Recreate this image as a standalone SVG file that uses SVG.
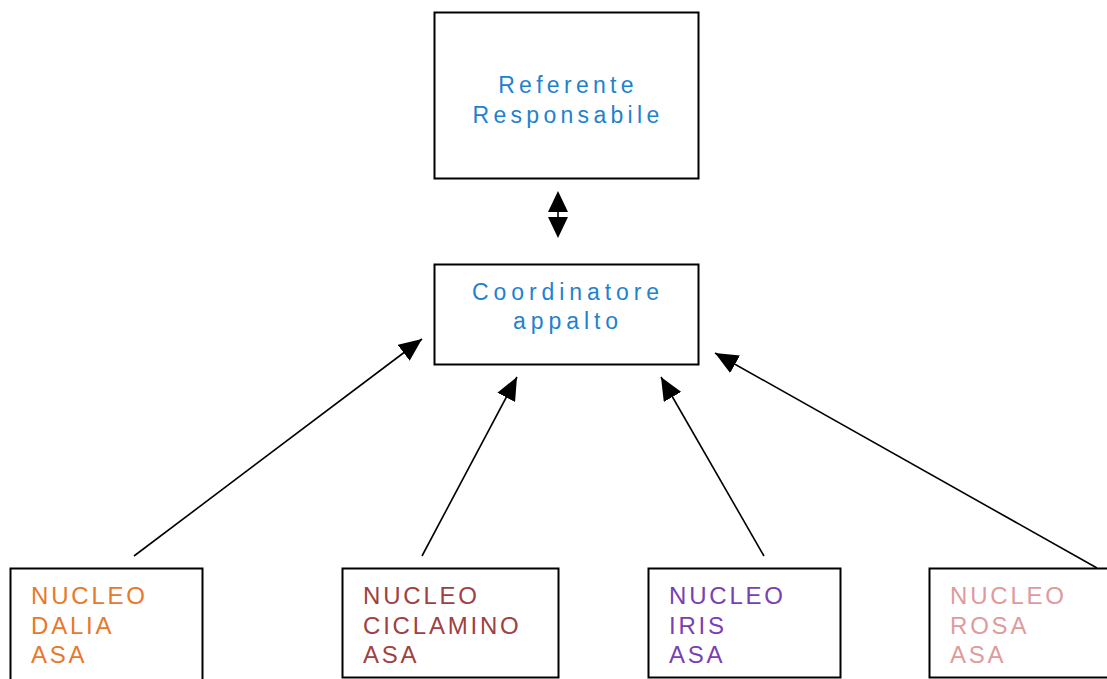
<svg xmlns="http://www.w3.org/2000/svg" width="1107" height="679" viewBox="0 0 1107 679">
<defs>
<style>
.box{fill:#fff;stroke:#000;stroke-width:2}
.t{font-family:"Liberation Sans",Arial,sans-serif}
.blue{fill:#1E82CF;font-size:23px;letter-spacing:4.3px}
.nuc{font-size:24px;letter-spacing:2.8px}
.conn{stroke:#000;stroke-width:1.6;fill:none}
</style>
<marker id="ah" markerUnits="userSpaceOnUse" markerWidth="24" markerHeight="20" viewBox="0 0 24 20" refX="23" refY="10" orient="auto">
<path d="M0,0 L23,10 L0,20 Z" fill="#000"/>
</marker>
</defs>
<rect width="1107" height="679" fill="#fff"/>
<g id="referente">
<rect class="box" x="434.5" y="12.5" width="264" height="166"/>
<text class="t blue" x="568" y="93" text-anchor="middle">Referente</text>
<text class="t blue" x="568" y="123" text-anchor="middle">Responsabile</text>
</g>
<g id="coordinatore">
<rect class="box" x="434.5" y="264.5" width="264" height="100"/>
<text class="t blue" x="568" y="300" text-anchor="middle" style="letter-spacing:4.9px">Coordinatore</text>
<text class="t blue" x="568" y="329" text-anchor="middle" style="letter-spacing:4.9px">appalto</text>
</g>
<g id="dalia">
<rect class="box" x="10.5" y="568.5" width="192" height="120"/>
<text class="t nuc" fill="#E8782A" x="31" y="604">NUCLEO</text>
<text class="t nuc" fill="#E8782A" x="31" y="634">DALIA</text>
<text class="t nuc" fill="#E8782A" x="31" y="663">ASA</text>
</g>
<g id="ciclamino">
<rect class="box" x="342.5" y="568.5" width="216" height="109"/>
<text class="t nuc" fill="#A0403F" x="363" y="604">NUCLEO</text>
<text class="t nuc" fill="#A0403F" x="363" y="634">CICLAMINO</text>
<text class="t nuc" fill="#A0403F" x="363" y="663">ASA</text>
</g>
<g id="iris">
<rect class="box" x="648.5" y="568.5" width="192" height="109"/>
<text class="t nuc" fill="#7A3FB2" x="669" y="604">NUCLEO</text>
<text class="t nuc" fill="#7A3FB2" x="669" y="634">IRIS</text>
<text class="t nuc" fill="#7A3FB2" x="669" y="663">ASA</text>
</g>
<g id="rosa">
<rect class="box" x="929.5" y="568.5" width="190" height="109"/>
<text class="t nuc" fill="#E09A9C" x="950" y="604">NUCLEO</text>
<text class="t nuc" fill="#E09A9C" x="950" y="634">ROSA</text>
<text class="t nuc" fill="#E09A9C" x="950" y="663">ASA</text>
</g>
<g id="connectors">
<line class="conn" x1="558" y1="205" x2="558" y2="224"/>
<polygon points="558,191 548,212 568,212" fill="#000"/>
<polygon points="558,238 548,217 568,217" fill="#000"/>
<line class="conn" x1="134" y1="556" x2="422" y2="339" marker-end="url(#ah)"/>
<line class="conn" x1="422" y1="556" x2="517" y2="377" marker-end="url(#ah)"/>
<line class="conn" x1="764" y1="556" x2="661" y2="377" marker-end="url(#ah)"/>
<line class="conn" x1="1097" y1="568" x2="715" y2="353" marker-end="url(#ah)"/>
</g>
</svg>
